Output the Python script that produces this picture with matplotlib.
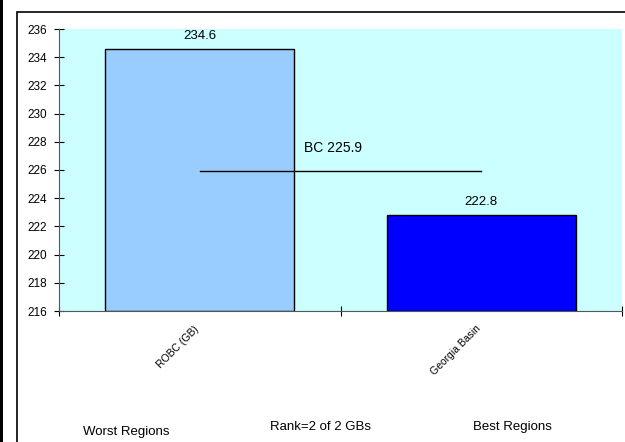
import matplotlib
matplotlib.use("Agg")
import matplotlib.pyplot as plt
from matplotlib.patches import Rectangle

plt.rcParams['font.family'] = ['Liberation Sans', 'DejaVu Sans']

regions = ["ROBC (GB)", "Georgia Basin"]
values = [234.6, 222.8]
bar_colors = ["#99CCFF", "#0000FF"]
bc_value = 225.9
bc_label = "BC 225.9"
footer = ["Worst Regions", "Rank=2 of 2 GBs", "Best Regions"]

fig = plt.figure(figsize=(6.25, 4.42), dpi=100)

# outer frames
fig.patches.append(Rectangle((0, 0), 0.005, 1, transform=fig.transFigure,
                             facecolor="black", edgecolor="none"))
fig.patches.append(Rectangle((17/625, -0.1), 1.2, 1 - 12/442 + 0.1,
                             transform=fig.transFigure, fill=False,
                             edgecolor="black", linewidth=1.2))

ax = fig.add_axes([59/625, 1 - 311/442, 563/625, 282/442])
ax.set_facecolor("#CCFFFF")

xs = [0.5, 1.5]
bars = ax.bar(xs, [v - 216 for v in values], bottom=216, width=0.67,
              color=bar_colors, edgecolor="black", linewidth=1)
for x, v in zip(xs, values):
    ax.text(x, v + 0.7, f"{v}", ha="center", va="baseline", fontsize=9.5)

ax.plot([xs[0], xs[1]], [bc_value, bc_value], color="black", linewidth=1)
ax.text(0.872, 227.25, bc_label, ha="left", va="baseline", fontsize=10)

ax.set_xlim(0, 2)
ax.set_ylim(216, 236)
ax.set_yticks(range(216, 237, 2))
ax.tick_params(axis="y", direction="inout", length=7, labelsize=8.5, pad=5)

ax.set_xticks([0, 1, 2])
ax.set_xticklabels([])
ax.tick_params(axis="x", which="major", direction="inout", length=7)

# rotated category labels
xtr = ax.get_xaxis_transform()
for x, name in zip(xs, regions):
    ax.text(x - 0.02, -0.045, name, transform=xtr, rotation=45,
            ha="right", va="top", rotation_mode="anchor", fontsize=7.5)

for s in ["top", "right"]:
    ax.spines[s].set_visible(False)
ax.spines["left"].set_color("#555555")
ax.spines["bottom"].set_color("#555555")

fig.text(83/625, 1 - 435/442, footer[0], fontsize=9.5, va="baseline")
fig.text(270/625, 1 - 430/442, footer[1], fontsize=9.5, va="baseline")
fig.text(473/625, 1 - 430/442, footer[2], fontsize=9.5, va="baseline")

fig.savefig("out.png", dpi=100)
